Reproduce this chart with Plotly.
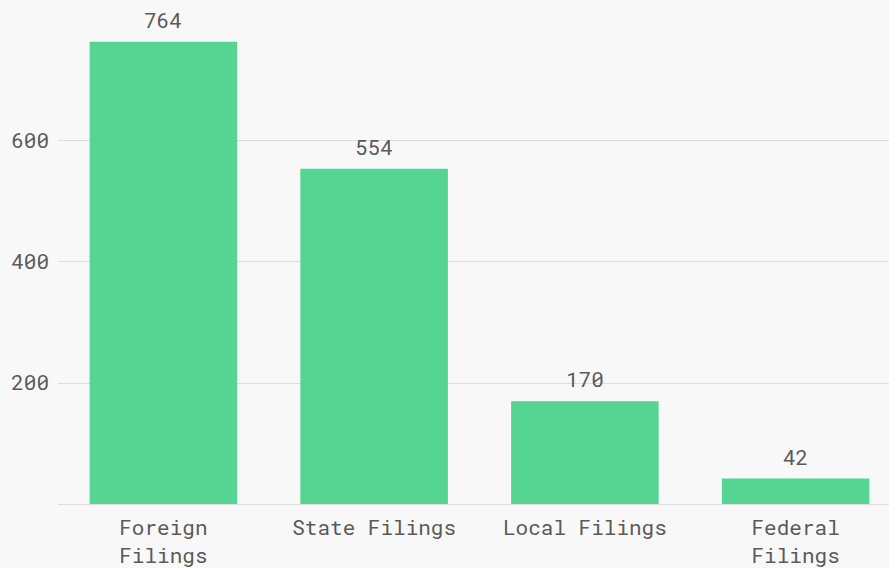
import plotly.graph_objects as go

categories = ["Foreign<br>Filings", "State Filings", "Local Filings", "Federal<br>Filings"]
values = [764, 554, 170, 42]
tick_vals = [200, 400, 600]

FONT = "Roboto Mono, DejaVu Sans Mono, monospace"
TXT = "#5a5a5a"
FS = 21

fig = go.Figure(go.Bar(
    x=categories, y=values,
    marker=dict(color="#55D591", line=dict(width=0)),
    hoverinfo="x+y",
))

for c, v in zip(categories, values):
    fig.add_annotation(x=c, y=v, text=str(v), showarrow=False,
                       yanchor="bottom", yshift=6,
                       font=dict(family=FONT, size=FS, color=TXT))

fig.update_layout(
    width=901, height=568,
    margin=dict(l=58, r=0, t=10, b=64),
    paper_bgcolor="#F8F8F8", plot_bgcolor="#F8F8F8",
    bargap=0.30,
    showlegend=False,
    font=dict(family=FONT, size=FS, color=TXT),
    xaxis=dict(showgrid=False, showline=True, linecolor="#DDDDDD", linewidth=1,
               ticks="", ticklabelstandoff=5,
               tickfont=dict(family=FONT, size=FS, color=TXT)),
    yaxis=dict(range=[0, 816.5], tickvals=tick_vals, showgrid=True,
               gridcolor="#DDDDDD", gridwidth=1, zeroline=False, showline=False,
               ticks="", ticklabelstandoff=8,
               tickfont=dict(family=FONT, size=FS, color=TXT)),
)

fig.write_html("out.html", config={"displayModeBar": False},
               post_script="document.body.style.margin='0';document.body.style.overflow='hidden';")
